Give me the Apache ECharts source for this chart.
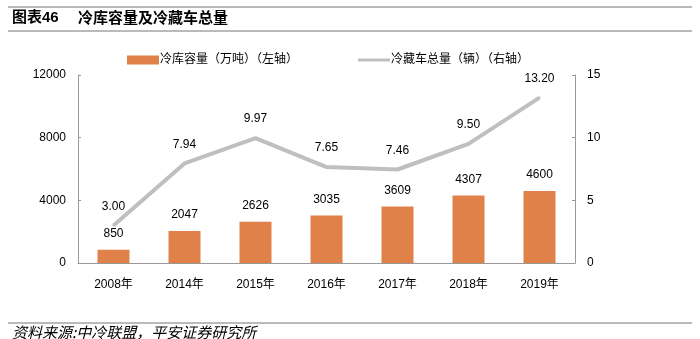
<!DOCTYPE html>
<html><head><meta charset="utf-8">
<script src="https://cdn.jsdelivr.net/npm/echarts@6/dist/echarts.min.js"></script>
<style>html,body{margin:0;padding:0;background:#fff}#c{width:700px;height:339px}</style>
</head><body><div id="c"></div>
<script>
var categories = ['2008年','2014年','2015年','2016年','2017年','2018年','2019年'];
var storageCapacity = [850, 2047, 2626, 3035, 3609, 4307, 4600];
var truckCount = [3.00, 7.94, 9.97, 7.65, 7.46, 9.50, 13.20];
var leftTicks = [0, 4000, 8000, 12000];
var rightTicks = [0, 5, 10, 15];
var seriesNames = ['冷库容量（万吨）（左轴）', '冷藏车总量（辆）（右轴）'];

var font = '"Liberation Sans", "Noto Sans CJK SC", sans-serif';
var chart = echarts.init(document.getElementById('c'));
chart.setOption({
  animation: false,
  textStyle: {fontFamily: font},
  graphic: [
    {type:'line', shape:{x1:8,y1:7,x2:692,y2:7}, style:{stroke:'#777',lineWidth:1}},
    {type:'line', shape:{x1:8,y1:31,x2:692,y2:31}, style:{stroke:'#777',lineWidth:1}},
    {type:'text', left:12, top:10, style:{text:'图表46', font:'bold 15px "Liberation Sans","Noto Sans CJK SC"', fill:'#000'}},
    {type:'text', left:78, top:10, style:{text:'冷库容量及冷藏车总量', font:'bold 15px "Noto Sans CJK SC"', fill:'#000'}},
    {type:'line', shape:{x1:8,y1:323,x2:692,y2:323}, style:{stroke:'#777',lineWidth:1}},
    {type:'text', left:12, top:325, style:{text:'资料来源:中冷联盟，平安证券研究所', font:'italic 15px "Noto Sans CJK SC"', fill:'#000'}}
  ],
  legend: {
    top: 49, left: 122,
    itemGap: 60, itemWidth: 32, itemHeight: 9,
    textStyle: {fontSize: 12, color:'#000', padding:[0,0,0,-4]},
    data: [
      {name: seriesNames[0], icon:'rect'},
      {name: seriesNames[1], icon:'path://M0,0 L32,0 L32,3 L0,3 Z', itemStyle:{color:'#BFBFBF', opacity:1}}
    ]
  },
  grid: {left: 78, right: 125, top: 75, bottom: 76},
  xAxis: {
    type: 'category', data: categories,
    axisLine: {lineStyle: {color: '#999'}},
    axisTick: {inside: true, length: 4, lineStyle:{color:'#999'}},
    axisLabel: {fontSize: 12, color: '#000', margin: 16}
  },
  yAxis: [
    {type:'value', min:0, max:12000, interval:4000,
     axisLine:{show:true, lineStyle:{color:'#999'}},
     axisTick:{show:true, inside:true, length:3, lineStyle:{color:'#999'}},
     splitLine:{show:false},
     axisLabel:{fontSize:12, color:'#000', margin:12, formatter: function(v){return String(v);}}},
    {type:'value', min:0, max:15, interval:5, position:'right',
     axisLine:{show:true, lineStyle:{color:'#999'}},
     axisTick:{show:true, inside:true, length:3, lineStyle:{color:'#999'}},
     splitLine:{show:false},
     axisLabel:{fontSize:12, color:'#000', margin:12}}
  ],
  series: [
    {name: seriesNames[0], type:'bar', yAxisIndex:0, data: storageCapacity,
     barWidth: 32, itemStyle:{color:'#E0814A'}, z:2,
     label:{show:true, position:'top', distance:10, fontSize:12, color:'#000'}},
    {name: seriesNames[1], type:'line', yAxisIndex:1, data: truckCount, z:3,
     symbol:'circle', symbolSize:2, showSymbol:true, showAllSymbol:true,
     lineStyle:{color:'#BFBFBF', width:4}, itemStyle:{color:'#BFBFBF'},
     label:{show:true, position:'top', distance:12, fontSize:12, color:'#000',
       formatter: function(p){return Number(p.value).toFixed(2);}}}
  ]
});
</script></body></html>
